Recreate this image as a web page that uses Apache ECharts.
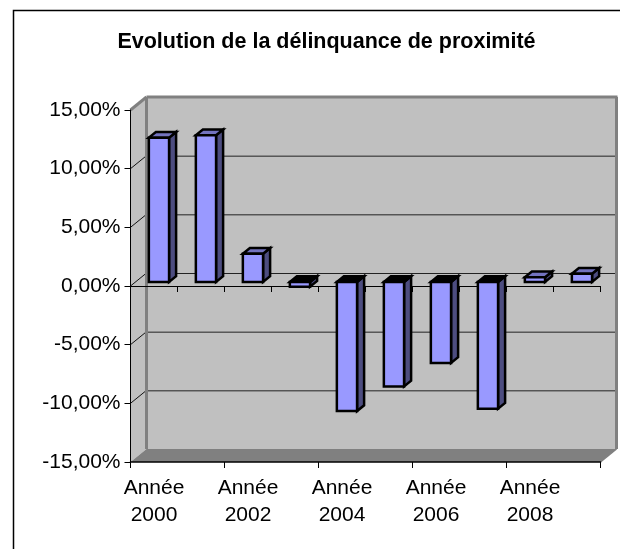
<!DOCTYPE html>
<html><head><meta charset="utf-8">
<style>html,body{margin:0;padding:0;background:#fff}#c{width:620px;height:549px}</style>
<script src="https://cdn.jsdelivr.net/npm/echarts@6/dist/echarts.min.js"></script>
</head><body><div id="c"></div>
<script>
const titleText = 'Evolution de la délinquance de proximité';
const categories = ['Année\n2000','Année\n2001','Année\n2002','Année\n2003','Année\n2004','Année\n2005','Année\n2006','Année\n2007','Année\n2008','Année\n2009'];
const evolution = [12.3,12.5,2.4,-0.4,-11.0,-8.9,-6.9,-10.8,0.4,0.7];
const yTicks = [-15,-10,-5,0,5,10,15];
const font = '"Liberation Sans", Arial, sans-serif';
const DX = 16, DY = 13;
const chart = echarts.init(document.getElementById('c'), null, {renderer:'canvas'});
function poly(points, fill, stroke, lw, z2){
  return {type:'polygon', z2:z2||0, shape:{points}, style:{fill:fill, stroke:stroke||null, lineWidth:lw||0, lineJoin:'miter'}};
}
function seg(x1,y1,x2,y2,stroke,lw,z2){
  return {type:'line', z2:z2||0, shape:{x1,y1,x2,y2}, style:{stroke, lineWidth:lw}};
}
function renderWalls(params, api){
  const cs = params.coordSys, L = cs.x, R = cs.x+cs.width, T = cs.y, B = cs.y+cs.height;
  const kids = [
    poly([[L,T],[L+DX,T-DY],[L+DX,B-DY],[L,B]],'#c0c0c0'),
    poly([[L+DX,T-DY],[R+DX,T-DY],[R+DX,B-DY],[L+DX,B-DY]],'#c0c0c0'),
    poly([[L,B],[L+DX,B-DY],[R+DX,B-DY],[R,B]],'#808080')
  ];
  yTicks.forEach(v=>{
    const y = api.coord([0,v])[1];
    if (v > -15 && v < 15) {
      kids.push(seg(L,y,L+DX,y-DY,'#111',1,2));
      kids.push(seg(L+DX,y-DY+0.5,R+DX,y-DY+0.5,'#222',1,2));
    }
  });
  kids.push(seg(L+DX,T-DY,L+DX,B-DY,'#808080',3,3));
  kids.push(seg(L+DX,T-DY,R+DX+1,T-DY,'#808080',3,3));
  kids.push(seg(R+DX,T-DY,R+DX,B-DY,'#808080',3,3));
  kids.push(seg(L,T,L+DX,T-DY,'#808080',3,3));
  kids.push(seg(R,B,R+DX,B-DY,'#808080',1.5,3));
  return {type:'group', children:kids};
}
function renderBar(params, api){
  const i = api.value(0), v = api.value(1);
  const base = api.coord([i,0]), end = api.coord([i,v]);
  const w = api.size([1,0])[0];
  const bw = w*0.43, ox = DX*0.31, oy = DY*0.31, dx = DX*0.44, dy = DY*0.44;
  const x0 = base[0]+ox-bw/2, x1 = x0+bw;
  const yTop = Math.min(base[1],end[1])-oy, yBot = Math.max(base[1],end[1])-oy;
  const s = '#000', lw = 2.5;
  return {type:'group', children:[
    poly([[x1,yTop],[x1+dx,yTop-dy],[x1+dx,yBot-dy],[x1,yBot]],'#4d4d80',s,lw),
    poly([[x0,yTop],[x0+dx,yTop-dy],[x1+dx,yTop-dy],[x1,yTop]],v<0?'#000':'#7373bf',s,lw),
    poly([[x0,yTop],[x1,yTop],[x1,yBot],[x0,yBot]],'#9999ff',s,lw)
  ]};
}
const tickLine = {show:true,length:6,lineStyle:{color:'#000',width:1}};
chart.setOption({
  animation:false,
  backgroundColor:'#fff',
  title:{text:titleText,left:321.5,top:26,textAlign:'center',textStyle:{fontFamily:font,fontSize:21.5,fontWeight:'bold',color:'#000'}},
  grid:{left:130.5,right:19.5,top:110,bottom:87,containLabel:false},
  graphic:[{type:'rect',shape:{x:13.5,y:10.5,width:700,height:700},style:{fill:'none',stroke:'#000',lineWidth:1.5},silent:true,z:0}],
  xAxis:[
    {type:'category',data:categories,boundaryGap:true,position:'bottom',z:2,
     axisLine:{onZero:true,lineStyle:{color:'#000',width:1}},
     axisTick:tickLine,axisLabel:{show:false},splitLine:{show:false}},
    {type:'category',data:categories,boundaryGap:true,position:'bottom',z:2,
     axisLine:{onZero:false,lineStyle:{color:'#000',width:1.5}},
     axisTick:tickLine,
     axisLabel:{show:true,interval:1,margin:13,color:'#000',fontFamily:font,fontSize:21,lineHeight:27,align:'center',hideOverlap:false},
     splitLine:{show:false}}
  ],
  yAxis:{type:'value',min:-15,max:15,interval:5,z:2,
    axisLine:{show:true,onZero:false,lineStyle:{color:'#000',width:1}},
    axisTick:{show:true,length:6,lineStyle:{color:'#000',width:1}},
    axisLabel:{margin:10,color:'#000',fontFamily:font,fontSize:21,formatter:v=>v.toFixed(2).replace('.',',')+'%'},
    splitLine:{show:false}},
  series:[
    {type:'custom',name:'walls',coordinateSystem:'cartesian2d',z:1,silent:true,clip:false,
     data:[[0,0]],renderItem:renderWalls,encode:{x:0,y:1}},
    {type:'custom',name:'Evolution',coordinateSystem:'cartesian2d',xAxisIndex:0,z:5,clip:false,
     data:evolution.map((v,i)=>[i,v]),renderItem:renderBar,encode:{x:0,y:1}}
  ]
});
</script></body></html>
